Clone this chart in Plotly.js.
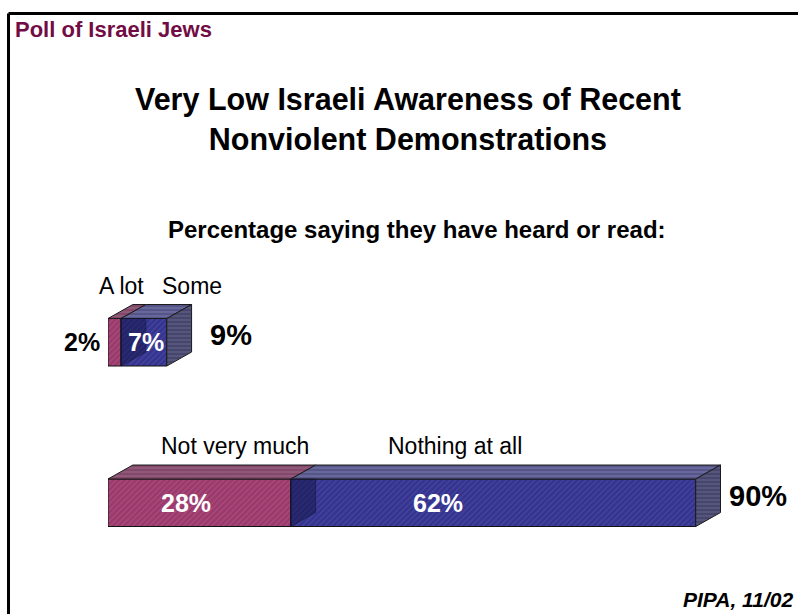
<!DOCTYPE html>
<html>
<head>
<meta charset="utf-8">
<script src="https://cdn.plot.ly/plotly-3.0.1.min.js"></script>
<style>
  html, body { margin: 0; padding: 0; background: #ffffff; }
  #chart { width: 799px; height: 614px; }
</style>
</head>
<body>
<div id="chart"></div>
<script>
// ---- data ----
const heardLabels = ['A lot', 'Some'];
const heardValues = [2, 7];
const heardTotal = 9;
const notHeardLabels = ['Not very much', 'Nothing at all'];
const notHeardValues = [28, 62];
const notHeardTotal = 90;

const titleText = 'Very Low Israeli Awareness of Recent<br>Nonviolent Demonstrations';
const subtitleText = 'Percentage saying they have heard or read:';
const headerText = 'Poll of Israeli Jews';
const sourceText = 'PIPA, 11/02';

// ---- styling ----
const W = 799, H = 614;
const M = { l: 108, r: 38, t: 262, b: 31 };
const PW = W - M.l - M.r, PH = H - M.t - M.b;
const px2x = p => (p - M.l) / PW;
const py2y = p => (M.t + PH - p) / PH;

const FONT = 'Liberation Sans, Arial, sans-serif';
const HALF = 0.148;      // half bar thickness (y units)
const DX = 3.8;          // 3D depth in x (percent units)
const DY = 0.087;        // 3D depth in y
const frontBg = ['#9a3a6c', '#34348e'];
const frontFg = ['#c06692', '#5d5dbb'];
const topBg = ['#83486a', '#55558a'];
const topFg = ['#a06a88', '#7878a8'];
const sideBg = '#46466c';
const sideFg = '#66668c';
const labelShift = { 'A lot': -5, 'Some': 36, 'Not very much': 23, 'Nothing at all': -51 };
const valueShift = [[0, 2], [-13, -55]];

const traces = [];
const annotations = [];

function poly(xs, ys, bg, fg, shape) {
  traces.push({
    type: 'scatter', mode: 'lines', x: xs, y: ys, fill: 'toself',
    fillcolor: bg,
    fillpattern: { shape: shape, fgcolor: fg, bgcolor: bg, size: 4, solidity: 0.25 },
    line: { color: '#1a1a1a', width: 1 },
    hoverinfo: 'skip', showlegend: false
  });
}

function drawRow(yc, labels, values, total, rowIdx, outerLeftLabel) {
  let start = 0;
  values.forEach((v, i) => {
    const x0 = start, x1 = start + v;
    // front face via bar
    traces.push({
      type: 'bar', orientation: 'h', y: [yc], x: [v], base: [x0], width: HALF * 2,
      marker: {
        color: frontBg[i],
        pattern: { shape: '/', fgcolor: frontFg[i], size: 4, solidity: 0.25, fillmode: 'overlay' },
        line: { color: '#111111', width: 1 }
      },
      hoverinfo: 'skip', showlegend: false
    });
    // top face
    poly([x0, x1, x1 + DX, x0 + DX, x0],
         [yc + HALF, yc + HALF, yc + HALF + DY, yc + HALF + DY, yc + HALF],
         topBg[i], topFg[i], '-');
    // category label above
    annotations.push({
      x: x0 + v / 2 + DX / 2, y: yc + HALF + DY, xref: 'x', yref: 'y',
      text: labels[i], showarrow: false, yanchor: 'bottom', xanchor: 'center',
      xshift: labelShift[labels[i]], yshift: 4,
      font: { family: FONT, size: 23, color: '#000000' }
    });
    // value label
    const vText = v + '%';
    if (i === 0 && outerLeftLabel) {
      annotations.push({
        x: x0, y: yc, xref: 'x', yref: 'y', text: '<b>' + vText + '</b>', showarrow: false,
        xanchor: 'right', yanchor: 'middle', xshift: -6,
        font: { family: FONT, size: 25, color: '#000000' }
      });
    } else {
      annotations.push({
        x: x0 + v / 2, y: yc, xref: 'x', yref: 'y', text: '<b>' + vText + '</b>', showarrow: false,
        xanchor: 'center', yanchor: 'middle', xshift: valueShift[rowIdx][i],
        font: { family: FONT, size: 25, color: '#ffffff' }
      });
    }
    start = x1;
  });
  // interior side face seen through the translucent front (boundary between segments)
  const xb = values[0];
  traces.push({
    type: 'scatter', mode: 'lines',
    x: [xb, xb + DX, xb + DX, xb, xb],
    y: [yc - HALF, yc - HALF + DY, yc + HALF, yc + HALF, yc - HALF],
    fill: 'toself', fillcolor: 'rgba(15,15,60,0.45)',
    line: { color: 'rgba(20,20,50,0.5)', width: 1 }, hoverinfo: 'skip', showlegend: false
  });
  // right side face
  const xt = start;
  poly([xt, xt + DX, xt + DX, xt, xt],
       [yc - HALF, yc - HALF + DY, yc + HALF + DY, yc + HALF, yc - HALF],
       sideBg, sideFg, '-');
  // total label
  annotations.push({
    x: xt + DX, y: yc + DY / 2, xref: 'x', yref: 'y', text: '<b>' + total + '%</b>', showarrow: false,
    xanchor: 'left', yanchor: 'middle', xshift: rowIdx === 0 ? 16 : 6,
    font: { family: FONT, size: 29, color: '#000000' }
  });
}

drawRow(1, heardLabels, heardValues, heardTotal, 0, true);
drawRow(0, notHeardLabels, notHeardValues, notHeardTotal, 1, false);

// titles / texts
annotations.push({
  xref: 'paper', yref: 'paper', x: px2x(13), y: py2y(30), xanchor: 'left', yanchor: 'middle',
  text: '<b>' + headerText + '</b>', showarrow: false,
  font: { family: FONT, size: 22, color: '#720c44' }
});
annotations.push({
  xref: 'paper', yref: 'paper', x: px2x(408), y: py2y(119), xanchor: 'center', yanchor: 'middle',
  text: '<b>' + titleText + '</b>', showarrow: false,
  font: { family: FONT, size: 30.5, color: '#000000' }
});
annotations.push({
  xref: 'paper', yref: 'paper', x: px2x(417), y: py2y(229), xanchor: 'center', yanchor: 'middle',
  text: '<b>' + subtitleText + '</b>', showarrow: false,
  font: { family: FONT, size: 24, color: '#000000' }
});
annotations.push({
  xref: 'paper', yref: 'paper', x: px2x(795), y: py2y(599), xanchor: 'right', yanchor: 'middle',
  text: '<b><i>' + sourceText + '</i></b>', showarrow: false,
  font: { family: FONT, size: 21, color: '#000000' }
});

const shapes = [
  { type: 'line', xref: 'paper', yref: 'paper', x0: px2x(8.5), x1: px2x(798), y0: py2y(13.5), y1: py2y(13.5),
    line: { color: '#000000', width: 3 } },
  { type: 'line', xref: 'paper', yref: 'paper', x0: px2x(8.5), x1: px2x(8.5), y0: py2y(13.5), y1: py2y(616),
    line: { color: '#000000', width: 3 } }
];

const layout = {
  width: W, height: H,
  margin: M,
  paper_bgcolor: '#ffffff', plot_bgcolor: 'rgba(0,0,0,0)',
  barmode: 'overlay',
  showlegend: false,
  xaxis: { range: [0, 100], visible: false, fixedrange: true },
  yaxis: { range: [-0.5, 1.5], visible: false, fixedrange: true },
  annotations: annotations,
  shapes: shapes,
  font: { family: FONT }
};

Plotly.newPlot('chart', traces, layout, { displayModeBar: false, staticPlot: true });
</script>
</body>
</html>
